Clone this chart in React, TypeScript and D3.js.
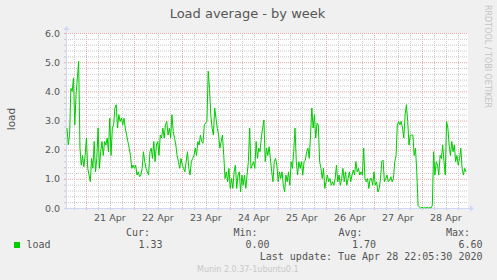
import React from "react";
import * as d3 from "d3";

// ---- data ----
const title = "Load average - by week";
const yLabel = "load";
const seriesName = "load";
const lastUpdate = Date.UTC(2020, 3, 28, 22, 5, 30);
const spanSeconds = 720000; // width of the week view
const yTicks = [0, 1, 2, 3, 4, 5, 6];

const loadPart1 = [2.74, 2.16, 2.5, 4.1, 4.0, 4.46, 2.85, 3.9, 4.46, 5.03, 2.05, 1.47, 1.8, 1.41, 1.8, 2.4, 1.36, 1.13, 0.9, 1.7, 1.36, 2.28, 1.24, 1.7, 2.74, 1.36, 1.93, 2.28, 1.8, 2.28, 2.16, 2.4, 1.93, 3.08, 1.8, 2.74, 2.85, 3.43, 3.54, 2.74, 3.2, 2.97, 3.08, 2.85, 3.08, 2.74, 2.5, 2.28, 2.05, 1.8, 1.36, 1.47, 1.36, 1.47, 1.13, 1.24, 1.07, 1.13, 1.36, 1.93, 1.59, 1.36];
const loadPart2 = [1.24, 1.13, 1.93, 2.05, 1.7, 2.28, 1.59, 2.16, 2.28, 1.8, 2.5, 2.4, 2.74, 2.4, 2.85, 2.97, 2.5, 2.74, 2.4, 3.2, 2.62, 2.4, 2.16, 1.8, 1.59, 1.36, 1.7, 1.47, 1.36, 1.24, 1.59, 1.93, 1.36, 1.13, 1.59, 1.7, 1.8, 2.05, 1.8, 2.28, 2.16, 2.5, 2.28, 2.22, 2.85, 2.91, 2.97, 4.69, 4.1, 3.2, 2.74, 2.5, 3.43, 3.08, 2.74, 2.5, 2.05, 2.28, 2.5, 1.8, 1.01];
const loadPart3 = [1.24, 0.9, 1.36, 0.67, 1.01, 0.67, 1.24, 1.47, 0.67, 1.13, 1.24, 0.55, 1.13, 0.78, 1.13, 0.67, 1.13, 1.59, 2.74, 1.36, 1.47, 1.59, 1.36, 2.28, 1.7, 2.05, 1.93, 2.4, 2.74, 3.02, 1.59, 2.05, 1.8, 2.1, 1.7, 1.24, 0.9, 1.59, 1.7, 1.47, 0.9, 1.24, 1.01, 1.24, 0.78, 0.55, 1.13, 0.9, 1.24, 0.78, 1.59, 1.36, 1.93, 2.74, 1.59, 1.13, 1.59, 1.36, 1.59, 1.13, 1.59];
const loadPart4 = [1.64, 1.93, 2.05, 1.7, 2.5, 3.43, 2.74, 3.2, 2.4, 2.91, 2.85, 1.59, 1.36, 1.01, 1.36, 0.67, 0.9, 1.13, 0.9, 1.01, 0.78, 0.9, 0.78, 1.01, 1.47, 0.9, 1.13, 0.78, 1.01, 1.36, 0.9, 1.24, 0.78, 1.01, 1.24, 0.9, 1.13, 1.3, 1.13, 1.59, 1.24, 1.36, 1.13, 1.24, 1.13, 2.05, 1.01, 0.9, 1.01, 0.67, 1.01, 1.01, 0.78, 1.24, 0.78, 0.9, 0.55, 0.67, 1.01, 1.59, 1.64];
const loadPart5 = [0.9, 1.01, 1.13, 0.9, 0.95, 1.07, 0.9, 1.01, 1.59, 1.8, 2.85, 2.97, 2.85, 2.97, 2.74, 2.4, 3.2, 3.54, 2.97, 2.16, 2.5, 2.5, 2.5, 1.8, 2.05, 1.24, 0.09, 0.03, 0, 0.03, 0, 0.02, 0, 0.02, 0, 0.02, 0, 0.09, 1.93, 1.13, 1.59, 1.47, 1.13, 1.8, 1.7, 2.16, 1.59, 1.13, 2.97, 2.74, 2.16, 1.8, 2.28, 1.93, 2.16, 1.59, 1.8, 1.47, 1.7, 2.05, 1.36, 1.13, 1.36, 1.24];

const legendHeads = ["Cur:", "Min:", "Avg:", "Max:"];
const legendValues = ["1.33", "0.00", "1.70", "6.60"];
const lastUpdateText = "Last update: Tue Apr 28 22:05:30 2020";
const footer = "Munin 2.0.37-1ubuntu0.1";
const sideText = "RRDTOOL / TOBI OETIKER";

const W = 497;
const H = 280;
const plot = { left: 66, right: 466, top: 33, bottom: 208 };
const GREEN = "#00CC00";
const FONT = "#555555";
const AXIS = "#CFD6F8";

export default function App() {
  const values = [...loadPart1, ...loadPart2, ...loadPart3, ...loadPart4, ...loadPart5];
  const end = new Date(lastUpdate);
  const start = new Date(lastUpdate - spanSeconds * 1000);
  const x = d3.scaleTime().domain([start, end]).range([plot.left, plot.right]);
  const y = d3.scaleLinear().domain([0, 6]).range([plot.bottom, plot.top]);

  const firstT = lastUpdate - spanSeconds * 1000 + 1800 * 1000;
  const step = (lastUpdate - firstT) / (values.length - 1);
  const pts = values.map((v, i) => ({ t: new Date(firstT + i * step), v }));
  const line = d3
    .line<{ t: Date; v: number }>()
    .x((d) => x(d.t))
    .y((d) => y(d.v));

  const minorH = d3.range(0, 6.0001, 0.2).filter((v) => Math.abs(v - Math.round(v)) > 0.01);
  const minorV = d3.utcHour.every(6)!.range(start, end).filter((d) => d.getUTCHours() !== 0);
  const majorV = d3.utcDay.range(start, end);
  const labelDays = d3.utcHour.every(12)!.range(start, end).filter((d) => d.getUTCHours() === 12);
  const fmt = d3.utcFormat("%d %b");

  const gx0 = plot.left;
  const gx1 = plot.right + 2;

  const legendHeadX = [150, 257.5, 362.5, 470];
  const legendValX = [162.5, 269.5, 376, 482.5];

  return (
    <svg
      width={W}
      height={H}
      style={{ position: "absolute", left: 0, top: 0, background: "#F0F0F0" }}
      fontFamily="DejaVu Sans"
    >
      <rect x={0} y={0} width={W} height={H} fill="#F0F0F0" />
      <rect x={plot.left} y={plot.top} width={gx1 - plot.left} height={plot.bottom - plot.top} fill="#FFFFFF" />
      {/* minor grid */}
      {minorH.map((v, i) => (
        <g key={"mh" + i}>
          <line x1={gx0} x2={gx1} y1={y(v) + 0.5} y2={y(v) + 0.5} stroke="#C8C8C8" strokeDasharray="1,1" />
          <line x1={gx0 - 2} x2={gx0} y1={y(v) + 0.5} y2={y(v) + 0.5} stroke="#C8C8C8" />
        </g>
      ))}
      {minorV.map((d, i) => (
        <g key={"mv" + i}>
          <line x1={Math.round(x(d)) + 0.5} x2={Math.round(x(d)) + 0.5} y1={plot.top} y2={plot.bottom} stroke="#C8C8C8" strokeDasharray="1,1" />
          <line x1={Math.round(x(d)) + 0.5} x2={Math.round(x(d)) + 0.5} y1={plot.bottom} y2={plot.bottom + 2} stroke="#C8C8C8" />
        </g>
      ))}
      {/* major grid */}
      {yTicks.map((v, i) => (
        <g key={"Mh" + i}>
          <line x1={gx0} x2={gx1} y1={y(v) + 0.5} y2={y(v) + 0.5} stroke="#E8A8A8" strokeDasharray="1,1" />
          <line x1={gx0 - 2} x2={gx0} y1={y(v) + 0.5} y2={y(v) + 0.5} stroke="#E8A8A8" />
        </g>
      ))}
      {majorV.map((d, i) => (
        <g key={"Mv" + i}>
          <line x1={Math.round(x(d)) + 0.5} x2={Math.round(x(d)) + 0.5} y1={plot.top} y2={plot.bottom} stroke="#E8A8A8" strokeDasharray="1,1" />
          <line x1={Math.round(x(d)) + 0.5} x2={Math.round(x(d)) + 0.5} y1={plot.bottom} y2={plot.bottom + 2} stroke="#E8A8A8" />
        </g>
      ))}
      {/* axes */}
      <line x1={plot.left + 0.5} x2={plot.left + 0.5} y1={plot.bottom + 2} y2={plot.top - 4} stroke={AXIS} />
      <path d={`M${plot.left - 2.5},${plot.top - 3} L${plot.left + 3.5},${plot.top - 3} L${plot.left + 0.5},${plot.top - 7} Z`} fill={AXIS} />
      <line x1={plot.left - 2} x2={gx1 + 3} y1={plot.bottom + 0.5} y2={plot.bottom + 0.5} stroke={AXIS} />
      <path d={`M${gx1 + 2},${plot.bottom - 2.5} L${gx1 + 2},${plot.bottom + 3.5} L${gx1 + 6},${plot.bottom + 0.5} Z`} fill={AXIS} />
      {/* data */}
      <path d={line(pts) || ""} fill="none" stroke={GREEN} strokeWidth={1} />
      {/* tick labels */}
      {yTicks.map((v) => (
        <text key={"yl" + v} x={60} y={y(v) + 3.6} textAnchor="end" fontSize={9.5} fill={FONT}>
          {v.toFixed(1)}
        </text>
      ))}
      {labelDays.map((d, i) => (
        <text key={"xl" + i} x={x(d)} y={221} textAnchor="middle" fontSize={9.5} fill={FONT}>
          {fmt(d)}
        </text>
      ))}
      {/* titles */}
      <text x={247.5} y={18} textAnchor="middle" fontSize={13} fill={FONT}>
        {title}
      </text>
      <text transform="translate(15,119) rotate(-90)" textAnchor="middle" fontSize={10.5} fill={FONT}>
        {yLabel}
      </text>
      <text transform="translate(485,5) rotate(90)" textAnchor="start" fontSize={8} fill="#C4C4C4">
        {sideText}
      </text>
      {/* legend */}
      <g fontFamily="DejaVu Sans Mono" fontSize={10} fill={FONT}>
        <rect x={14} y={242} width={6} height={6} fill={GREEN} />
        <text x={26.5} y={247.5}>{seriesName}</text>
        {legendHeads.map((h, i) => (
          <text key={h} x={legendHeadX[i]} y={236} textAnchor="end">{h}</text>
        ))}
        {legendValues.map((v, i) => (
          <text key={"lv" + i} x={legendValX[i]} y={247.5} textAnchor="end">{v}</text>
        ))}
        <text x={482.5} y={259.5} textAnchor="end">{lastUpdateText}</text>
      </g>
      <text x={247.8} y={272} textAnchor="middle" fontSize={8} fill="#C8C8C8">
        {footer}
      </text>
    </svg>
  );
}
